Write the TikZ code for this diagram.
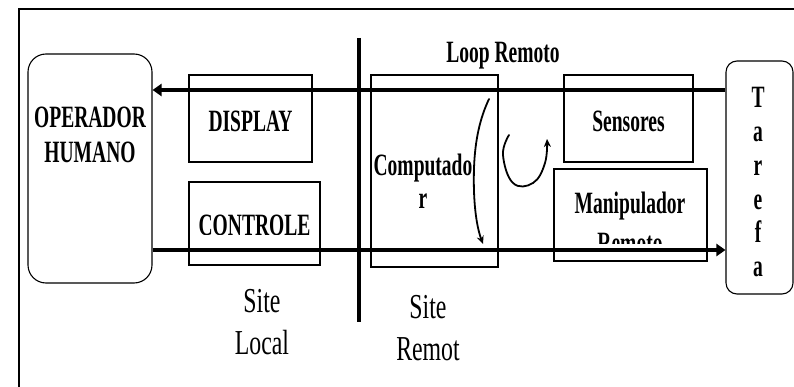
\documentclass[tikz,border=0pt]{standalone}
\usepackage{fontspec}
\setmainfont{Liberation Serif}
\newfontfamily\estreita[FakeStretch=0.63]{Liberation Serif}
\newfontfamily\larga[FakeStretch=0.68]{Liberation Serif}
\usetikzlibrary{arrows.meta}

\begin{document}
\begin{tikzpicture}[x=1pt,y=-1pt,
  caixa/.style={draw,line width=1.1pt,inner sep=0pt},
  negrito/.style={font=\estreita\bfseries\fontsize{31}{35}\selectfont,align=center,inner sep=0pt},
  normal/.style={font=\larga\fontsize{35}{42}\selectfont,align=center,inner sep=0pt},
  seta/.style={line width=3.6pt,-{Triangle[length=9pt,width=12pt]}},
  mao/.style={line width=1.8pt,line cap=round,-{Stealth[length=8pt,width=7pt]}}]
  \useasboundingbox (0,0) rectangle (794,387);
  \clip (0,0) rectangle (794,387);
  % Outer frame, cut by the page on the right and at the bottom.
  \draw[line width=1.3pt] (19,9) rectangle (830,400);
  % The two ends: the human operator and the task.
  \node[caixa,rounded corners=18pt,minimum width=124pt,minimum height=229pt] (operador) at (90,168.5) {};
  \node[negrito] (operadortxt) at (90,135.3) {OPERADOR\\HUMANO};
  \node[caixa,rounded corners=11pt,minimum width=67pt,minimum height=233pt] (tarefa) at (759.5,177.5) {};
  \node[negrito,font=\estreita\bfseries\fontsize{31}{33.8}\selectfont] (tarefatxt) at (758,182.3) {T\\a\\r\\e\\f\\a};
  % Local site.
  \node[caixa,negrito,minimum width=123pt,minimum height=87pt,text height=27pt,text depth=0pt] (display) at (250.5,118.5) {DISPLAY};
  \node[caixa,minimum width=131pt,minimum height=83pt] (controle) at (254.5,223.5) {};
  \begin{scope}
    \clip (controle.north west) rectangle ([yshift=31pt]controle.south east);
    \node[negrito,text height=24pt,text depth=0pt] (controletxt) at (controle.center) {CONTROLE};
  \end{scope}
  \node[normal] (sitelocal) at (262,321.8) {Site\\Local};
  % Border between the two sites.
  \draw[line width=4pt] (359,38) -- (359,322);
  % Remote site.
  \node[caixa,minimum width=127pt,minimum height=192pt] (computador) at (434.5,171) {};
  \node[negrito,font=\estreita\bfseries\fontsize{31}{33}\selectfont] (computadortxt) at (423,181) {Computado\\r};
  \node[caixa,negrito,minimum width=129pt,minimum height=87pt,text height=27pt,text depth=0pt] (sensores) at (628.5,118.5) {Sensores};
  \node[caixa,minimum width=153pt,minimum height=92pt] (manipulador) at (630.5,215) {};
  \begin{scope}
    \clip (manipulador.north west) rectangle ([yshift=18pt]manipulador.south east);
    \node[negrito,font=\estreita\bfseries\fontsize{31}{40}\selectfont] (manipuladortxt) at (630,222.5) {Manipulador\\Remoto};
  \end{scope}
  \node[normal] (siteremot) at (428,328) {Site\\Remot};
  \node[negrito,anchor=base] (loop) at (503,63) {Loop Remoto};
  % Feedback from the task and command to the task.
  \coordinate (cima) at (0,90);
  \coordinate (baixo) at (0,250);
  \draw[seta] (tarefa.west |- cima) -- (operador.east |- cima);
  \draw[seta] (operador.east |- baixo) -- (tarefa.west |- baixo);
  % Hand-drawn arrows inside the remote loop.
  \draw[mao] (489,99) .. controls (480,118) and (475,140) .. (474,168)
    .. controls (473,200) and (476,225) .. (483,244);
  \draw[mao] plot[smooth,tension=0.7] coordinates {(509,135) (503,155) (513,183) (533,183) (545,163) (547,139)};
\end{tikzpicture}
\end{document}
